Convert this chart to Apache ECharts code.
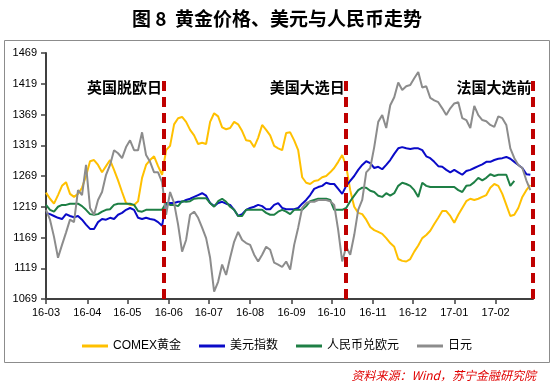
<!DOCTYPE html>
<html><head><meta charset="utf-8">
<script src="https://cdn.jsdelivr.net/npm/echarts@6/dist/echarts.min.js"></script>
<style>html,body{margin:0;padding:0;background:#fff}#c{width:554px;height:383px}</style>
</head><body><div id="c"></div>
<script>
// Series values (one reading every 3 calendar days starting 2016-03-28)
const seriesStart = '2016-03-28';
const stepDays = 3;
const gold = [1242,1232,1224,1238,1253,1259,1240,1235,1240,1250,
 1269,1293,1295,1287,1275,1285,1295,1279,1262,1243,
 1225,1222,1222,1228,1266,1287,1295,1301,1285,1271,
 1311,1318,1353,1363,1365,1357,1344,1335,1321,1323,
 1321,1357,1371,1366,1348,1345,1347,1357,1353,1342,
 1327,1326,1316,1331,1352,1344,1335,1318,1314,1311,
 1339,1340,1327,1311,1267,1258,1256,1261,1262,1267,
 1269,1275,1282,1292,1303,1285,1246,1219,1209,1207,
 1198,1186,1181,1178,1175,1168,1160,1154,1134,1131,
 1130,1134,1146,1156,1168,1173,1180,1191,1201,1212,
 1212,1204,1193,1206,1217,1228,1232,1230,1232,1235,
 1238,1250,1256,1253,1240,1222,1204,1206,1217,1235,
 1246,1254];
const usd = [1209,1207,1204,1201,1199,1207,1204,1202,1204,1198,
 1190,1183,1183,1194,1199,1198,1201,1199,1206,1209,
 1214,1217,1214,1201,1199,1201,1199,1198,1194,1188,
 1225,1225,1225,1227,1227,1230,1232,1235,1238,1241,
 1237,1225,1220,1225,1227,1224,1222,1214,1204,1207,
 1214,1217,1219,1222,1220,1215,1215,1222,1225,1217,
 1215,1215,1215,1217,1224,1230,1238,1248,1251,1253,
 1258,1256,1256,1248,1240,1253,1261,1269,1279,1287,
 1293,1290,1282,1284,1280,1287,1295,1305,1314,1316,
 1314,1313,1314,1314,1311,1301,1298,1292,1285,1284,
 1279,1275,1279,1275,1271,1277,1279,1282,1285,1288,
 1292,1292,1295,1297,1298,1300,1297,1292,1287,1282,
 1272,1271];
const cnyEur = [1222,1214,1211,1219,1222,1222,1224,1224,1224,1220,
 1214,1207,1206,1207,1211,1214,1215,1222,1224,1224,
 1224,1224,1222,1212,1211,1214,1214,1214,1214,1214,
 1225,1222,1222,1220,1228,1227,1228,1232,1233,1233,
 1233,1225,1219,1228,1232,1227,1219,1214,1204,1204,
 1214,1214,1214,1214,1214,1209,1206,1206,1211,1214,
 1211,1207,1214,1214,1214,1220,1228,1230,1232,1232,
 1232,1230,1214,1214,1214,1217,1228,1237,1246,1250,
 1250,1245,1243,1237,1235,1241,1237,1241,1253,1258,
 1256,1253,1246,1235,1258,1253,1251,1251,1251,1251,
 1251,1251,1251,1246,1243,1253,1254,1259,1266,1262,
 1266,1272,1269,1271,1271,1271,1253,1261,null,null,
 null,null];
const jpy = [1214,1198,1170,1136,1157,1177,1198,1194,1246,1238,
 1287,1217,1206,1230,1243,1271,1287,1311,1306,1298,
 1316,1327,1311,1311,1340,1303,1292,1275,1275,1259,
 1206,1243,1225,1190,1146,1165,1206,1211,1201,1185,
 1168,1136,1081,1097,1125,1108,1136,1162,1178,1165,
 1160,1157,1141,1130,1141,1154,1149,1128,1125,1121,
 1130,1117,1157,1185,1217,1225,1227,1227,1230,1230,
 1230,1228,1222,1181,1130,1154,1141,1173,1214,1230,
 1275,1282,1316,1357,1368,1347,1384,1397,1421,1409,
 1415,1417,1428,1438,1413,1415,1396,1392,1389,1379,
 1368,1379,1387,1389,1363,1360,1347,1383,1368,1360,
 1358,1352,1349,1366,1363,1352,1314,1298,1287,1282,
 1262,1246];
const seriesNames = ['COMEX黄金','美元指数','人民币兑欧元','日元'];
const yTicks = [1069,1119,1169,1219,1269,1319,1369,1419,1469];
const xTicks = ['2016-03-28','2016-04-28','2016-05-28','2016-06-28','2016-07-28','2016-08-28',
 '2016-09-28','2016-10-28','2016-11-28','2016-12-28','2017-01-28','2017-02-28'];
const xRange = ['2016-03-28','2017-03-28'];
const eventNames = ['英国脱欧日','美国大选日','法国大选前'];
const eventDates = ['2016-06-24','2016-11-08','2017-03-28'];
const eventLineTop = 1428;
const eventLabelY = 1413;

function toTime(s){const p=s.split('-').map(Number);return new Date(p[0],p[1]-1,p[2]).getTime();}
const s0 = seriesStart.split('-').map(Number);
const xDates = gold.map((_,i)=>new Date(s0[0],s0[1]-1,s0[2]+stepDays*i).getTime());
const pair = arr => arr.map((v,i)=>[xDates[i], v]);

const colors = ['#FFC000','#0A0AC8','#1E7F45','#8C8C8C'];
const font = '"Liberation Sans", Arial, "Noto Sans CJK SC", sans-serif';
const chart = echarts.init(document.getElementById('c'), null, {renderer:'canvas'});
const mk = (name, data, color, extra) => Object.assign({
  name, type:'line', data: pair(data), showSymbol:false, symbol:'none',
  lineStyle:{width:2, color}, itemStyle:{color}, animation:false, silent:true
}, extra||{});

chart.setOption({
  animation:false,
  backgroundColor:'#fff',
  title:[
    {text:'图 8  黄金价格、美元与人民币走势', left:'center', top:4,
     textStyle:{fontSize:19, fontWeight:'bold', color:'#000', fontFamily:'"Noto Sans CJK SC", sans-serif'}},
    {text:'资料来源：Wind，苏宁金融研究院', right:13, top:364,
     textStyle:{fontSize:12, fontWeight:'normal', fontStyle:'italic', color:'#E00000', fontFamily:'"Noto Sans CJK SC", sans-serif'}}
  ],
  graphic:[{type:'rect', silent:true, shape:{x:4.5,y:40.5,width:545,height:322},
    style:{fill:'none', stroke:'#8C8C8C', lineWidth:1}}],
  legend:{data:seriesNames, top:335, left:'center', icon:'rect', itemWidth:26, itemHeight:3, itemGap:18,
    textStyle:{fontSize:12, color:'#000', fontFamily:font}},
  grid:{left:46, right:21, top:53, bottom:84, containLabel:false},
  xAxis:{type:'value', min:toTime(xRange[0]), max:toTime(xRange[1]),
    axisLine:{show:true, lineStyle:{color:'#404040', width:2}},
    axisTick:{show:true, customValues:xTicks.map(toTime), length:5, lineStyle:{color:'#404040', width:1.5}},
    axisLabel:{customValues:xTicks.map(toTime), margin:8, fontSize:11, color:'#000', fontFamily:font,
      formatter:v=>{const d=new Date(v);return String(d.getFullYear()%100).padStart(2,'0')+'-'+String(d.getMonth()+1).padStart(2,'0');}},
    splitLine:{show:false}},
  yAxis:{type:'value', min:yTicks[0], max:yTicks[yTicks.length-1],
    axisLine:{show:true, lineStyle:{color:'#404040', width:2}},
    axisTick:{show:true, customValues:yTicks, length:5, lineStyle:{color:'#404040', width:1.5}},
    axisLabel:{customValues:yTicks, margin:9, fontSize:11, color:'#000', fontFamily:font, formatter:v=>String(v)},
    splitLine:{show:false}},
  series:[
    mk(seriesNames[0], gold, colors[0]),
    mk(seriesNames[1], usd, colors[1]),
    mk(seriesNames[2], cnyEur, colors[2]),
    mk(seriesNames[3], jpy, colors[3], {
      markLine:{silent:true, symbol:['none','none'], animation:false,
        lineStyle:{color:'#C00000', width:4, type:[10,6]}, label:{show:false},
        data:eventDates.map(d=>[{coord:[toTime(d), yTicks[0]]},{coord:[toTime(d), eventLineTop]}])},
      markPoint:{silent:true, symbol:'rect', symbolSize:1, itemStyle:{color:'rgba(0,0,0,0)'}, animation:false,
        label:{show:true, position:'left', distance:1, formatter:'{b}', fontSize:15, fontWeight:'bold', color:'#000',
          fontFamily:'"Noto Sans CJK SC", sans-serif'},
        data:eventDates.map((d,i)=>({name:eventNames[i], coord:[toTime(d), eventLabelY]}))}
    })
  ]
});
</script></body></html>
